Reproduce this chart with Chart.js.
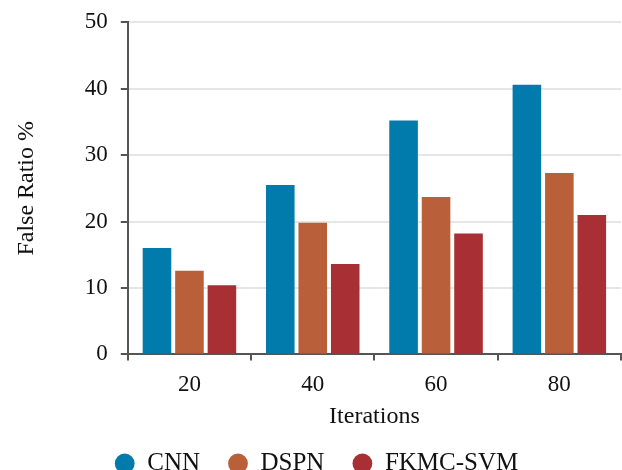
<!DOCTYPE html>
<html>
<head>
<meta charset="utf-8">
<script src="https://cdn.jsdelivr.net/npm/chart.js@4"></script>
<style>
html,body{margin:0;padding:0;background:#fff;}
#wrap{width:622px;height:470px;position:relative;}
</style>
</head>
<body>
<div id="wrap"><canvas id="c" width="622" height="470"></canvas></div>
<script>
const categories = ["20", "40", "60", "80"];
const cnn = [16.0, 25.5, 35.2, 40.6];
const dspn = [12.6, 19.8, 23.7, 27.3];
const fkmc = [10.4, 13.6, 18.2, 21.0];
const seriesNames = ["CNN", "DSPN", "FKMC-SVM"];
const yTicks = [0, 10, 20, 30, 40, 50];

const colors = ["#007BAB", "#B9603A", "#A83035"];
const fontFam = "'Liberation Serif', 'Times New Roman', serif";
const textColor = "#111111";
const axisColor = "#555555";

new Chart(document.getElementById('c'), {
  type: 'bar',
  data: {
    labels: categories,
    datasets: [cnn, dspn, fkmc].map((d, i) => ({
      label: seriesNames[i],
      data: d,
      backgroundColor: colors[i],
      borderWidth: 0,
      barPercentage: 0.88,
      categoryPercentage: 0.79
    }))
  },
  options: {
    responsive: false,
    animation: false,
    devicePixelRatio: 1,
    layout: { padding: { left: 12, right: 1, top: -2, bottom: -16 } },
    plugins: {
      legend: {
        position: 'bottom',
        labels: {
          usePointStyle: true,
          pointStyle: 'circle',
          boxWidth: 20,
          boxHeight: 14,
          padding: 28,
          color: textColor,
          font: { family: fontFam, size: 25 }
        }
      },
      tooltip: { enabled: false }
    },
    scales: {
      x: {
        grid: { offset: true, drawOnChartArea: false, drawTicks: true, tickLength: 6, color: axisColor, lineWidth: 2 },
        border: { display: true, color: axisColor, width: 2 },
        ticks: { color: textColor, font: { family: fontFam, size: 23 }, padding: 11 },
        title: { display: true, text: 'Iterations', color: textColor, font: { family: fontFam, size: 24, lineHeight: 1 }, padding: { top: -5, bottom: -6 } }
      },
      y: {
        min: 0, max: 50,
        afterBuildTicks: (axis) => { axis.ticks = yTicks.map(v => ({ value: v })); },
        grid: { color: '#e6e6e6', lineWidth: 2, drawTicks: true, tickLength: 7, tickColor: axisColor, tickWidth: 2 },
        border: { display: true, color: axisColor, width: 2 },
        ticks: { color: textColor, font: { family: fontFam, size: 23, lineHeight: 0.8 }, padding: 13 },
        title: { display: true, text: 'False Ratio %', color: textColor, font: { family: fontFam, size: 24 }, padding: { top: 0, bottom: 31 } }
      }
    }
  }
});
</script>
</body>
</html>
